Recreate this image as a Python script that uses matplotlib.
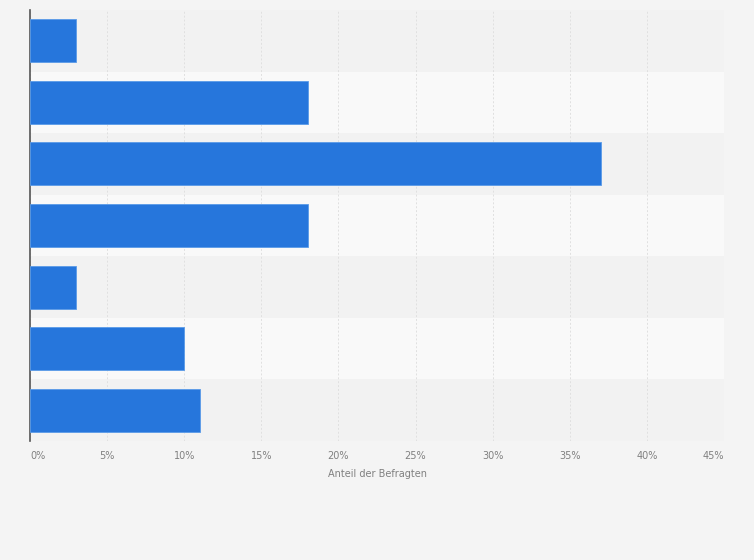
import matplotlib
matplotlib.use("Agg")
import matplotlib.pyplot as plt
import numpy as np

# values (share of respondents, %), top to bottom
values = [3, 18, 37, 18, 3, 10, 11]
ticks = [0, 5, 10, 15, 20, 25, 30, 35, 40, 45]
tick_labels = [f"{t}%" for t in ticks]
xlabel = "Anteil der Befragten"

fig = plt.figure(figsize=(7.54, 5.60), dpi=100, facecolor="#f4f4f4")
ax = fig.add_axes([30/754, 1-441/560, 694/754, 431/560])
ax.set_facecolor("#f4f4f4")

n = len(values)
y = np.arange(n)
# alternating row bands
for i in range(n):
    col = "#f2f2f2" if i % 2 == 0 else "#f9f9f9"
    ax.axhspan(i - 0.5, i + 0.5, color=col, zorder=0, lw=0)

ax.barh(y, values, height=0.7, color="#2676dc", edgecolor="#5a9be8",
        linewidth=0.6, zorder=3)

ax.set_ylim(n - 0.5, -0.5)
ax.set_xlim(0, 45)
ax.set_xticks(ticks)
ax.set_xticklabels(tick_labels, fontsize=7, color="#808080")
# first and last labels kept inside the plot edges
lbls = ax.get_xticklabels()
lbls[0].set_horizontalalignment("left")
lbls[-1].set_horizontalalignment("right")
ax.set_yticks([])
ax.tick_params(axis="x", length=0, pad=7)
ax.grid(axis="x", color="#e0e0e0", linestyle=(0, (2, 2)), linewidth=0.7, zorder=1)
ax.set_xlabel(xlabel, fontsize=7, color="#808080", labelpad=6)

for s in ["top", "right", "bottom"]:
    ax.spines[s].set_visible(False)
ax.spines["left"].set_color("#555555")
ax.spines["left"].set_linewidth(1.2)

fig.savefig("out.png", dpi=100, facecolor=fig.get_facecolor())
